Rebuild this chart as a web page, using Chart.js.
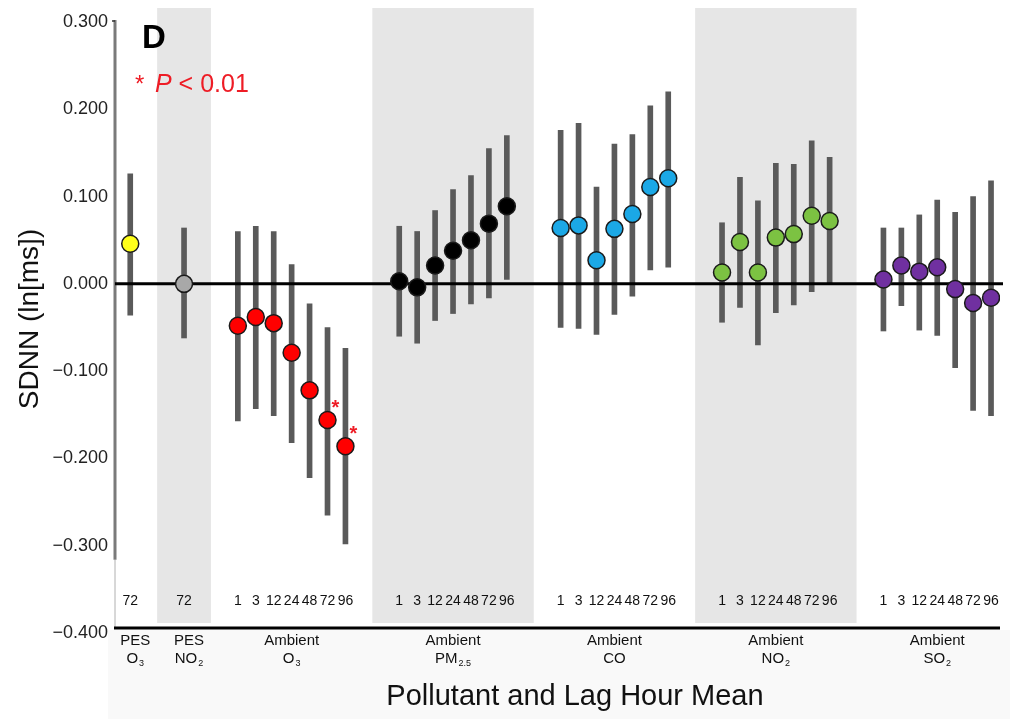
<!DOCTYPE html>
<html>
<head>
<meta charset="utf-8">
<script src="https://cdn.jsdelivr.net/npm/chart.js@4/dist/chart.umd.min.js"></script>
<style>
  body { margin: 0; background: #fff; }
  canvas { display: block; }
</style>
</head>
<body>
<canvas id="chart" width="1010" height="719"></canvas>
<script>
// grupos de contaminantes (linea 1, base, subindice)
const groupTop = ["PES", "PES", "Ambient", "Ambient", "Ambient", "Ambient", "Ambient"];
const groupBase = ["O", "NO", "O", "PM", "CO", "NO", "SO"];
const groupSub = ["3", "2", "3", "2.5", "", "2", "2"];
const shaded = [false, true, false, true, false, true, false];

// horas de rezago
const lagHours = [
  [72],
  [72],
  [1, 3, 12, 24, 48, 72, 96],
  [1, 3, 12, 24, 48, 72, 96],
  [1, 3, 12, 24, 48, 72, 96],
  [1, 3, 12, 24, 48, 72, 96],
  [1, 3, 12, 24, 48, 72, 96]
];

// estimaciones SDNN (ln[ms])
const estimates = [
  [0.046],
  [0.000],
  [-0.048, -0.038, -0.045, -0.079, -0.122, -0.156, -0.186],
  [0.003, -0.004, 0.021, 0.038, 0.050, 0.069, 0.089],
  [0.064, 0.067, 0.027, 0.063, 0.080, 0.111, 0.121],
  [0.013, 0.048, 0.013, 0.053, 0.057, 0.078, 0.072],
  [0.005, 0.021, 0.014, 0.019, -0.006, -0.022, -0.016]
];
const lower = [
  [-0.036],
  [-0.062],
  [-0.157, -0.143, -0.151, -0.182, -0.222, -0.265, -0.298],
  [-0.060, -0.068, -0.042, -0.034, -0.023, -0.016, 0.005],
  [-0.050, -0.051, -0.058, -0.035, -0.014, 0.016, 0.019],
  [-0.044, -0.027, -0.070, -0.033, -0.024, -0.009, 0.000],
  [-0.054, -0.025, -0.053, -0.059, -0.096, -0.145, -0.151]
];
const upper = [
  [0.126],
  [0.064],
  [0.060, 0.066, 0.060, 0.022, -0.023, -0.050, -0.074],
  [0.066, 0.060, 0.084, 0.108, 0.124, 0.155, 0.170],
  [0.176, 0.184, 0.111, 0.160, 0.171, 0.204, 0.220],
  [0.070, 0.122, 0.095, 0.138, 0.137, 0.164, 0.145],
  [0.064, 0.064, 0.079, 0.096, 0.082, 0.100, 0.118]
];
// P < 0.01
const significant = [
  [0], [0], [0, 0, 0, 0, 0, 1, 1], [0, 0, 0, 0, 0, 0, 0],
  [0, 0, 0, 0, 0, 0, 0], [0, 0, 0, 0, 0, 0, 0], [0, 0, 0, 0, 0, 0, 0]
];

const yTicks = [-0.4, -0.3, -0.2, -0.1, 0, 0.1, 0.2, 0.3];

const colores = ["#ffff1a", "#a8a8a8", "#ff0000", "#000000", "#1ba8e6", "#7cc242", "#7030a0"];
const FONT = "'Liberation Sans', Arial, Helvetica, sans-serif";

// posicion x de cada grupo (indice), dos huecos entre grupos
const starts = [];
let pos = 0;
lagHours.forEach(l => { starts.push(pos); pos += l.length + 2; });

const barData = [];
lagHours.forEach((l, g) => l.forEach((h, i) => {
  barData.push({ x: starts[g] + i, y: [lower[g][i], upper[g][i]] });
}));

const datasets = [{
  type: "bar",
  data: barData,
  backgroundColor: "#5a5a5a",
  barThickness: 5,
  order: 2
}];
estimates.forEach((est, g) => {
  datasets.push({
    type: "scatter",
    data: est.map((v, i) => ({ x: starts[g] + i, y: v })),
    backgroundColor: colores[g],
    borderColor: "#1a1a1a",
    borderWidth: 1.5,
    pointRadius: 8.5,
    order: 1
  });
});

const decor = {
  id: "decor",
  beforeDraw(chart) {
    const { ctx, chartArea: a } = chart;
    ctx.save();
    ctx.fillStyle = "#fff";
    ctx.fillRect(0, 0, chart.width, chart.height);
    ctx.fillStyle = "#f9f9f9";
    ctx.fillRect(108, a.bottom - 3, chart.width - 108, chart.height);
    ctx.restore();
  },
  beforeDatasetsDraw(chart) {
    const { ctx, chartArea: a, scales: { x, y } } = chart;
    ctx.save();
    // bandas grises
    ctx.fillStyle = "#e6e6e6";
    lagHours.forEach((l, g) => {
      if (!shaded[g]) return;
      const x0 = x.getPixelForValue(starts[g] - 1.5);
      const x1 = x.getPixelForValue(starts[g] + l.length + 0.5);
      ctx.fillRect(x0, 8, x1 - x0, a.bottom - 10 - 8);
    });
    // eje y
    ctx.strokeStyle = "#7a7a7a";
    ctx.lineWidth = 3;
    ctx.beginPath();
    ctx.moveTo(a.left, a.top - 2);
    ctx.lineTo(a.left, y.getPixelForValue(-0.316));
    ctx.stroke();
    ctx.strokeStyle = "#b0b0b0";
    ctx.lineWidth = 1;
    ctx.beginPath();
    ctx.moveTo(a.left, y.getPixelForValue(-0.316));
    ctx.lineTo(a.left, a.bottom - 5);
    ctx.stroke();
    // marca en 0.300
    ctx.strokeStyle = "#333";
    ctx.lineWidth = 1.5;
    ctx.beginPath();
    ctx.moveTo(a.left - 3, a.top - 1);
    ctx.lineTo(a.left, a.top - 1);
    ctx.stroke();
    ctx.restore();
  },
  afterDatasetDraw(chart, args) {
    if (args.meta.type !== "bar") return;
    const { ctx, chartArea: a, scales: { y } } = chart;
    ctx.save();
    ctx.strokeStyle = "#000";
    ctx.lineWidth = 3;
    ctx.beginPath();
    ctx.moveTo(a.left, y.getPixelForValue(0));
    ctx.lineTo(a.right + 3, y.getPixelForValue(0));
    ctx.stroke();
    ctx.restore();
  },
  afterDatasetsDraw(chart) {
    const { ctx, chartArea: a, scales: { x, y } } = chart;
    ctx.save();
    // eje x
    ctx.strokeStyle = "#000";
    ctx.lineWidth = 3;
    ctx.beginPath();
    ctx.moveTo(a.left - 1, a.bottom - 5);
    ctx.lineTo(a.right, a.bottom - 5);
    ctx.stroke();

    // asteriscos
    ctx.fillStyle = "#ee1c25";
    ctx.font = "bold 20px " + FONT;
    ctx.textAlign = "center";
    ctx.textBaseline = "middle";
    significant.forEach((s, g) => s.forEach((v, i) => {
      if (!v) return;
      ctx.fillText("*", x.getPixelForValue(starts[g] + i) + 8, y.getPixelForValue(estimates[g][i]) - 12);
    }));

    // horas de rezago
    ctx.fillStyle = "#111";
    ctx.font = "14px " + FONT;
    lagHours.forEach((l, g) => l.forEach((h, i) => {
      ctx.fillText(String(h), x.getPixelForValue(starts[g] + i), a.bottom - 32);
    }));

    // nombres de grupos
    lagHours.forEach((l, g) => {
      const cx = x.getPixelForValue(starts[g] + (l.length - 1) / 2) + (l.length === 1 ? 5 : 0);
      ctx.font = "15px " + FONT;
      ctx.textAlign = "center";
      ctx.fillText(groupTop[g], cx, a.bottom + 8);
      const bw = ctx.measureText(groupBase[g]).width;
      ctx.font = "9px " + FONT;
      const sw = groupSub[g] ? ctx.measureText(groupSub[g]).width + 1 : 0;
      const left = cx - (bw + sw) / 2;
      ctx.textAlign = "left";
      ctx.font = "15px " + FONT;
      ctx.fillText(groupBase[g], left, a.bottom + 26);
      if (groupSub[g]) {
        ctx.font = "9px " + FONT;
        ctx.fillText(groupSub[g], left + bw + 1, a.bottom + 31);
      }
    });

    // titulo eje x
    ctx.font = "29px " + FONT;
    ctx.textAlign = "center";
    ctx.fillStyle = "#111";
    ctx.fillText("Pollutant and Lag Hour Mean", 575, 697);

    // titulo eje y
    ctx.save();
    ctx.translate(30, 319);
    ctx.rotate(-Math.PI / 2);
    ctx.font = "28px " + FONT;
    ctx.fillText("SDNN (ln[ms])", 0, 0);
    ctx.restore();

    // panel D
    ctx.textAlign = "left";
    ctx.textBaseline = "alphabetic";
    ctx.font = "bold 33px " + FONT;
    ctx.fillStyle = "#000";
    ctx.fillText("D", 142, 48);

    // leyenda P
    ctx.fillStyle = "#ee1c25";
    ctx.font = "24px " + FONT;
    ctx.fillText("*", 135, 92);
    ctx.font = "italic 25px " + FONT;
    ctx.fillText("P", 155, 92);
    const pw = ctx.measureText("P").width;
    ctx.font = "25px " + FONT;
    ctx.fillText(" < 0.01", 155 + pw, 92);
    ctx.restore();
  }
};

new Chart(document.getElementById("chart"), {
  type: "scatter",
  data: { datasets },
  options: {
    responsive: false,
    animation: false,
    layout: { padding: { top: 22, right: 10, bottom: 86, left: 0 } },
    plugins: { legend: { display: false }, tooltip: { enabled: false } },
    scales: {
      x: {
        type: "linear",
        display: false,
        offset: false,
        grid: { offset: false },
        min: -0.85,
        max: 48.5
      },
      y: {
        min: -0.4,
        max: 0.3,
        afterFit(scale) { scale.width = 115; },
        afterBuildTicks(scale) { scale.ticks = yTicks.map(v => ({ value: v })); },
        grid: { display: false, drawTicks: false },
        border: { display: false },
        ticks: {
          padding: 7,
          color: "#222",
          font: { size: 18, family: FONT },
          callback: v => (v < -1e-9 ? "\u2212" : "") + Math.abs(v).toFixed(3)
        }
      }
    }
  },
  plugins: [decor]
});
</script>
</body>
</html>
